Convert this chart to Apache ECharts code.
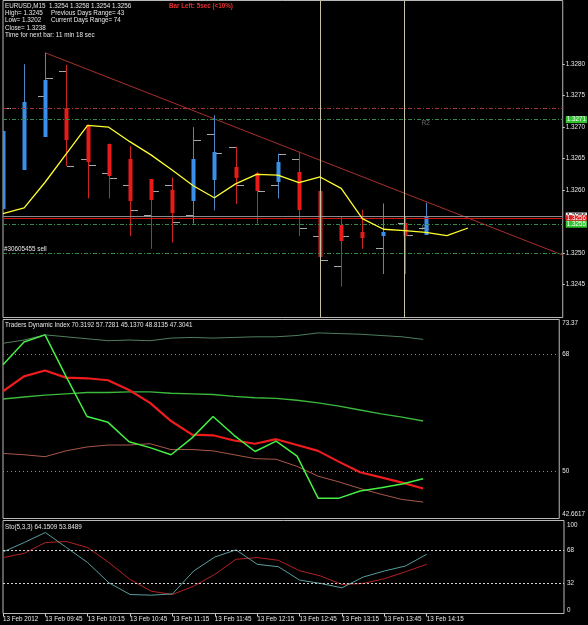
<!DOCTYPE html>
<html lang="en">
<head>
<meta charset="UTF-8">
<title>EURUSD,M15</title>
<script src="https://cdn.jsdelivr.net/npm/echarts@6/dist/echarts.min.js"></script>
<style>
    html, body { margin: 0; padding: 0; background: #000; }
    #main { width: 588px; height: 625px; }
</style>
</head>
<body>
<div id="main"></div>
<script>
    // time labels, one every 2 bars (M15)
    var timeTicks = [0, 2, 4, 6, 8, 10, 12, 14, 16, 18, 20];
    var timeLabels = ['13 Feb 2012', '13 Feb 09:45', '13 Feb 10:15', '13 Feb 10:45', '13 Feb 11:15',
        '13 Feb 11:45', '13 Feb 12:15', '13 Feb 12:45', '13 Feb 13:15', '13 Feb 13:45', '13 Feb 14:15'];

    // heikin ashi candles
    var haOpen  = [1.32571, 1.32632, 1.32685, 1.32730, 1.32704, 1.32674, 1.32650, 1.32617, 1.32600, 1.32582, 1.32615,
                   1.32637, 1.32628, 1.32613, 1.32629, 1.32599, 1.32544, 1.32533, 1.32527, 1.32548, 1.32529];
    var haClose = [1.32694, 1.32740, 1.32775, 1.32680, 1.32645, 1.32624, 1.32584, 1.32584, 1.32564, 1.32649, 1.32660,
                   1.32619, 1.32599, 1.32645, 1.32569, 1.32494, 1.32518, 1.32523, 1.32534, 1.32527, 1.32559];
    var haLow   = [1.32571, 1.32632, 1.32685, 1.32638, 1.32587, 1.32587, 1.32527, 1.32507, 1.32517, 1.32547, 1.32568,
                   1.32578, 1.32547, 1.32587, 1.32527, 1.32418, 1.32447, 1.32507, 1.32467, 1.32467, 1.32529];
    var haHigh  = [1.32694, 1.32800, 1.32818, 1.32799, 1.32704, 1.32674, 1.32670, 1.32617, 1.32620, 1.32700, 1.32719,
                   1.32669, 1.32629, 1.32658, 1.32660, 1.32599, 1.32559, 1.32569, 1.32579, 1.32558, 1.32580];
    // plain bar open / close ticks (grey)
    var barOpen  = [null, null, 1.32750, 1.32789, 1.32649, 1.32628, 1.32608, 1.32561, 1.32608, 1.32561, 1.32689,
                    1.32669, null, 1.32609, 1.32649, 1.32527, 1.32480, null, 1.32509, 1.32548, 1.32540];
    var barClose = [1.32730, null, 1.32778, 1.32639, 1.32640, 1.32620, 1.32569, 1.32599, 1.32549, 1.32680, 1.32659,
                    1.32609, 1.32599, 1.32658, 1.32540, 1.32489, 1.32527, null, null, 1.32529, 1.32559];
    // shifted moving average (runs 2 bars ahead)
    var maValues = [1.32563, 1.32572, 1.32613, 1.32658, 1.32703, 1.32700, 1.32677, 1.32656, 1.32632, 1.32607, 1.32588,
                    1.32610, 1.32625, 1.32624, 1.32612, 1.32621, 1.32603, 1.32555, 1.32538, 1.32536, 1.32533,
                    1.32528, 1.32540];
    var trendLine = [[2, 1.32818], [26.48, 1.32497]];
    var priceTicks = [1.3245, 1.3250, 1.3260, 1.3265, 1.3270, 1.3275, 1.3280];

    // Traders Dynamic Index
    var tdiUpper  = [69.7, 70.2, 71.0, 70.7, 70.4, 70.1, 70.2, 70.1, 70.5, 70.6, 70.5, 70.6, 70.7, 70.7, 70.9, 71.3, 71.2, 71.1, 70.9, 70.7, 70.3];
    var tdiMiddle = [61.1, 61.4, 61.7, 61.9, 62.1, 62.1, 62.2, 62.2, 62.0, 61.9, 61.8, 61.5, 61.3, 61.2, 60.9, 60.5, 60.0, 59.4, 58.8, 58.3, 57.7];
    var tdiLower  = [52.7, 52.5, 52.2, 53.1, 53.7, 54.0, 54.0, 54.2, 53.3, 53.3, 53.1, 52.5, 51.9, 51.8, 50.7, 49.2, 48.3, 47.3, 46.4, 45.6, 45.2];
    var tdiRsi    = [66.4, 69.9, 71.0, 64.6, 58.4, 57.5, 54.5, 53.6, 52.5, 55.1, 58.4, 55.5, 53.0, 54.6, 52.3, 45.8, 45.8, 46.9, 47.4, 48.0, 48.8];
    var tdiSignal = [62.3, 64.6, 65.5, 64.4, 64.3, 64.0, 62.5, 60.5, 57.7, 55.6, 55.5, 54.7, 54.2, 54.9, 54.0, 53.1, 51.4, 49.8, 49.0, 48.2, 47.3];
    var tdiTicks = [42.6617, 50, 68, 73.37];
    var tdiTickLabels = ['42.6617', '50', '68', '73.37'];

    // Stochastic (5,3,3)
    var stoMain   = [66.2, 76.3, 87.1, 70.9, 54.7, 33.0, 20.4, 19.7, 21.1, 45.7, 60.8, 68.4, 52.9, 50.3, 35.9, 32.3, 27.6, 39.2, 45.7, 51.1, 63.7];
    var stoSignal = [60.1, 64.7, 76.3, 77.4, 70.9, 54.7, 36.6, 24.0, 20.4, 29.4, 42.1, 58.3, 60.1, 57.2, 46.0, 40.3, 31.2, 32.3, 37.4, 44.9, 52.9];
    var stoTicks = [0, 32, 68, 100];

    var infoLeft = ['EURUSD,M15  1.3254 1.3258 1.3254 1.3256', 'High= 1.3245', 'Low= 1.3202', 'Close= 1.3238',
        'Time for next bar: 11 min 18 sec'];
    var infoRight = ['', 'Previous Days Range= 43', 'Current Days Range= 74'];

    var FONT = 'Liberation Sans';
    var FS = 6.3;
    var TXT = '#e6e6e6';
    var X_MAX = 26.48;

    function pts(arr) {
        return arr.map(function (v, i) { return [i, v]; });
    }

    var candleData = haOpen.map(function (o, i) {
        return [i, o, haClose[i], haLow[i], haHigh[i]];
    });
    var tickData = barOpen.map(function (o, i) {
        return [i, o == null ? '-' : o, barClose[i] == null ? '-' : barClose[i]];
    });

    function renderCandle(params, api) {
        var i = api.value(0), o = api.value(1), c = api.value(2);
        var pO = api.coord([i, o]), pC = api.coord([i, c]);
        var pL = api.coord([i, api.value(3)]), pH = api.coord([i, api.value(4)]);
        var x = Math.round(pO[0]);
        var up = c >= o;
        var top = Math.round(Math.min(pO[1], pC[1]));
        var h = Math.max(1, Math.round(Math.abs(pO[1] - pC[1])));
        return {
            type: 'group',
            children: [
                { type: 'line', shape: { x1: x + 0.5, y1: pH[1], x2: x + 0.5, y2: pL[1] },
                  style: { stroke: up ? '#4f86c4' : '#cc2424', lineWidth: 1 } },
                { type: 'rect', shape: { x: x - 1.5, y: top, width: 4, height: h },
                  style: { fill: up ? '#3a8fe8' : '#e81a1a' } }
            ]
        };
    }

    function renderTicks(params, api) {
        var i = api.value(0), o = api.value(1), c = api.value(2);
        var kids = [];
        if (!isNaN(o)) {
            var p = api.coord([i, o]);
            var y = Math.round(p[1]) + 0.5, x = Math.round(p[0]);
            kids.push({ type: 'line', shape: { x1: x - 7, y1: y, x2: x, y2: y }, style: { stroke: '#a8a8a8', lineWidth: 1 } });
        }
        if (!isNaN(c)) {
            var q = api.coord([i, c]);
            var y2 = Math.round(q[1]) + 0.5, x2 = Math.round(q[0]);
            kids.push({ type: 'line', shape: { x1: x2 + 1, y1: y2, x2: x2 + 8, y2: y2 }, style: { stroke: '#a8a8a8', lineWidth: 1 } });
        }
        return { type: 'group', children: kids };
    }

    function priceTag(value, text, bg, fg, line) {
        return {
            yAxis: value,
            lineStyle: line,
            label: { show: !!text, position: 'end', formatter: text, distance: 3, backgroundColor: bg,
                     color: fg, padding: [1, 1, 0, 1], fontSize: FS, fontFamily: FONT }
        };
    }

    var graphics = [];
    infoLeft.forEach(function (t, k) {
        graphics.push({ type: 'text', x: 5, y: 6 + k * 7.35,
            style: { text: t, fill: TXT, font: FS + 'px "' + FONT + '"', verticalAlign: 'middle' } });
    });
    infoRight.forEach(function (t, k) {
        if (!t) return;
        graphics.push({ type: 'text', x: 51, y: 6 + k * 7.35,
            style: { text: t, fill: TXT, font: FS + 'px "' + FONT + '"', verticalAlign: 'middle' } });
    });
    graphics.push({ type: 'text', x: 169, y: 6,
        style: { text: 'Bar Left: 5sec (<10%)', fill: '#e83030', font: 'bold ' + FS + 'px "' + FONT + '"', verticalAlign: 'middle' } });
    graphics.push({ type: 'text', x: 5, y: 325,
        style: { text: 'Traders Dynamic Index 70.3192 57.7281 45.1370 48.8135 47.3041', fill: TXT,
                 font: FS + 'px "' + FONT + '"', verticalAlign: 'middle' } });
    graphics.push({ type: 'text', x: 5, y: 527,
        style: { text: 'Sto(5,3,3) 64.1509 53.8489', fill: TXT, font: FS + 'px "' + FONT + '"', verticalAlign: 'middle' } });

    var gridStyle = { show: true, borderColor: '#b8b8b8', borderWidth: 1, left: 3, width: 561 };
    var lbl = { color: TXT, fontSize: FS, fontFamily: FONT };
    var dashDot = [4, 2, 1, 2];
    var noLine = { show: false, onZero: false };

    var myChart = echarts.init(document.getElementById('main'));
    var option = {
        backgroundColor: '#000',
        animation: false,
        graphic: graphics,
        grid: [
            Object.assign({ top: 0.5, height: 317 }, gridStyle),
            Object.assign({ top: 319.5, height: 199 }, gridStyle),
            Object.assign({ top: 520.5, height: 93 }, gridStyle)
        ],
        xAxis: [
            { type: 'value', gridIndex: 0, min: 0, max: X_MAX, show: false },
            { type: 'value', gridIndex: 1, min: 0, max: X_MAX, show: false },
            {
                type: 'value', gridIndex: 2, min: 0, max: X_MAX,
                splitLine: { show: false },
                axisLine: noLine,
                axisTick: { show: true, customValues: timeTicks, length: 3, lineStyle: { color: '#d0d0d0' } },
                axisLabel: Object.assign({
                    customValues: timeTicks, align: 'left', margin: 3,
                    formatter: function (v) { return timeLabels[timeTicks.indexOf(Math.round(v))] || ''; }
                }, lbl)
            }
        ],
        yAxis: [
            {
                type: 'value', gridIndex: 0, position: 'right', min: 1.32398, max: 1.32901,
                splitLine: { show: false }, axisLine: noLine,
                axisTick: { show: true, customValues: priceTicks, length: 2, lineStyle: { color: '#d0d0d0' } },
                axisLabel: Object.assign({
                    customValues: priceTicks, margin: 3,
                    formatter: function (v) { return v.toFixed(4); }
                }, lbl)
            },
            {
                type: 'value', gridIndex: 1, position: 'right', min: 42.6617, max: 73.37,
                splitLine: { show: false }, axisLine: noLine, axisTick: { show: false },
                axisLabel: Object.assign({
                    customValues: tdiTicks, margin: 3,
                    formatter: function (v) {
                        var k = tdiTicks.indexOf(v);
                        var s = tdiTickLabels[k];
                        if (k === tdiTicks.length - 1) return '{t|' + s + '}';
                        if (k === 0) return '{b|' + s + '}';
                        return s;
                    },
                    rich: {
                        t: Object.assign({ padding: [7, 0, 0, 0] }, lbl),
                        b: Object.assign({ padding: [0, 0, 9, 0] }, lbl)
                    }
                }, lbl)
            },
            {
                type: 'value', gridIndex: 2, position: 'right', min: 0, max: 100,
                splitLine: { show: false }, axisLine: noLine, axisTick: { show: false },
                axisLabel: Object.assign({
                    customValues: stoTicks, margin: 3,
                    formatter: function (v) {
                        if (v === 100) return '{t|100}';
                        if (v === 0) return '{b|0}';
                        return String(v);
                    },
                    rich: {
                        t: Object.assign({ padding: [9, 0, 0, 0] }, lbl),
                        b: Object.assign({ padding: [0, 0, 7, 0] }, lbl)
                    }
                }, lbl)
            }
        ],
        series: [
            {
                name: 'trend', type: 'line', xAxisIndex: 0, yAxisIndex: 0, data: trendLine, symbol: 'none', z: 2,
                lineStyle: { color: '#a8302c', width: 1 },
                markLine: {
                    silent: true, symbol: ['none', 'none'], animation: false, precision: 5,
                    label: { show: false },
                    data: [
                        priceTag(1.32730, '', null, null, { color: '#a83434', type: dashDot, width: 1 }),
                        priceTag(1.32712, '1.3271', '#2fc42f', '#fff', { color: '#2e8b4a', type: dashDot, width: 1 }),
                        priceTag(1.32559, '1.3256', '#f0f0f0', '#000', { color: '#8a8a8a', type: 'solid', width: 1 }),
                        priceTag(1.32555, '1.3256', '#e02020', '#fff', { color: '#d01414', type: 'solid', width: 1 }),
                        priceTag(1.32546, '1.3255', '#2fc42f', '#fff', { color: '#2e8b4a', type: dashDot, width: 1 }),
                        {
                            yAxis: 1.32500, lineStyle: { color: '#2e8b4a', type: dashDot, width: 1 },
                            label: Object.assign({ show: true, position: 'insideStartTop', formatter: '#30605455 sell', distance: 1 }, lbl)
                        },
                        { xAxis: 15, lineStyle: { color: '#c8c2a4', type: 'solid', width: 1 } },
                        { xAxis: 19, lineStyle: { color: '#c8c2a4', type: 'solid', width: 1 } }
                    ]
                }
            },
            {
                name: 'pivots', type: 'scatter', xAxisIndex: 0, yAxisIndex: 0, symbolSize: 0, z: 2,
                data: [{ name: 'R2', value: [20, 1.32712] }, { name: 'R1', value: [20, 1.32546] }],
                label: { show: true, position: 'bottom', distance: 1, formatter: '{b}', color: '#8c8c8c', fontSize: FS, fontFamily: FONT }
            },
            {
                name: 'ticks', type: 'custom', xAxisIndex: 0, yAxisIndex: 0, data: tickData, z: 3,
                encode: { x: 0, y: [1, 2] }, renderItem: renderTicks
            },
            {
                name: 'candles', type: 'custom', xAxisIndex: 0, yAxisIndex: 0, data: candleData, z: 4, clip: true,
                encode: { x: 0, y: [1, 2, 3, 4] }, renderItem: renderCandle
            },
            {
                name: 'ma', type: 'line', xAxisIndex: 0, yAxisIndex: 0, data: pts(maValues), symbol: 'none', z: 5,
                lineStyle: { color: '#ffff30', width: 1.3 }
            },
            // TDI
            {
                name: 'upper', type: 'line', xAxisIndex: 1, yAxisIndex: 1, data: pts(tdiUpper), symbol: 'none',
                lineStyle: { color: '#4f7f60', width: 1 },
                markLine: {
                    silent: true, symbol: ['none', 'none'], label: { show: false },
                    lineStyle: { color: '#8a8a8a', type: [1, 3], width: 1 },
                    data: [{ yAxis: 68 }, { yAxis: 50 }]
                }
            },
            {
                name: 'middle', type: 'line', xAxisIndex: 1, yAxisIndex: 1, data: pts(tdiMiddle), symbol: 'none',
                lineStyle: { color: '#3cb83c', width: 1.4 }
            },
            {
                name: 'lower', type: 'line', xAxisIndex: 1, yAxisIndex: 1, data: pts(tdiLower), symbol: 'none',
                lineStyle: { color: '#a8584a', width: 1 }
            },
            {
                name: 'signal', type: 'line', xAxisIndex: 1, yAxisIndex: 1, data: pts(tdiSignal), symbol: 'none',
                lineStyle: { color: '#ee1c1c', width: 2.2 }
            },
            {
                name: 'rsi', type: 'line', xAxisIndex: 1, yAxisIndex: 1, data: pts(tdiRsi), symbol: 'none',
                lineStyle: { color: '#44f044', width: 1.5 }
            },
            // Stochastic
            {
                name: 'stoSignal', type: 'line', xAxisIndex: 2, yAxisIndex: 2, data: pts(stoSignal), symbol: 'none',
                lineStyle: { color: '#b42222', width: 1 },
                markLine: {
                    silent: true, symbol: ['none', 'none'], label: { show: false },
                    lineStyle: { color: '#d4d4d4', type: [2, 2], width: 1 },
                    data: [{ yAxis: 68 }, { yAxis: 32 }]
                }
            },
            {
                name: 'stoMain', type: 'line', xAxisIndex: 2, yAxisIndex: 2, data: pts(stoMain), symbol: 'none',
                lineStyle: { color: '#5a9c9c', width: 1 }
            }
        ]
    };
    myChart.setOption(option);
</script>
</body>
</html>
